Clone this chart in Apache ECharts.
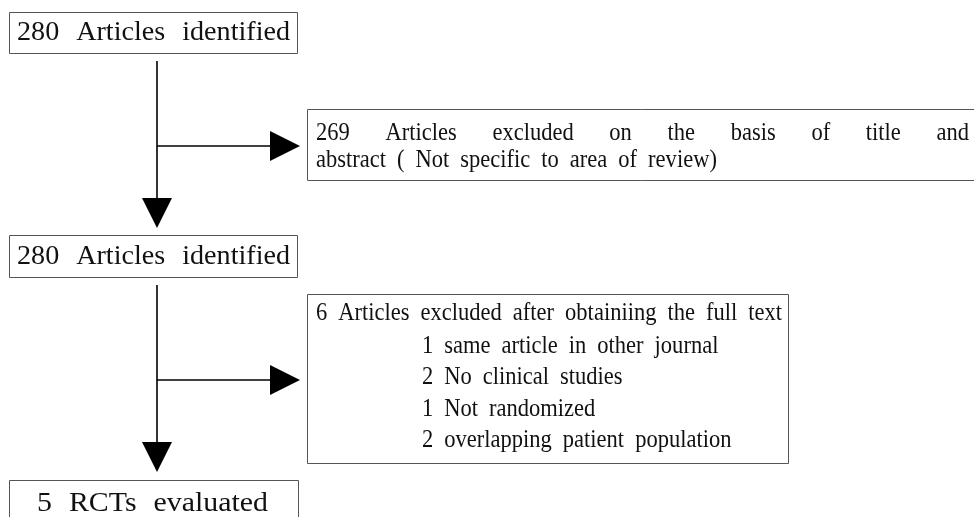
<!DOCTYPE html>
<html>
<head>
<meta charset="utf-8">
<script src="https://cdn.jsdelivr.net/npm/echarts@6/dist/echarts.min.js"></script>
<style>
html, body { margin: 0; padding: 0; background: #fff; }
#flow { width: 974px; height: 517px; }
</style>
</head>
<body>
<div id="flow"></div>
<script>
// flow chart content
const mainSteps = ['280 Articles identified', '280 Articles identified', '5 RCTs evaluated'];
const titleExcluded = ['269 Articles excluded on the basis of title and', 'abstract ( Not specific to area of review)'];
const fullTextExcluded = '6 Articles excluded after obtainiing the full text';
const reasonCounts = [1, 2, 1, 2];
const reasonLabels = ['same article in other journal', 'No clinical studies', 'Not randomized', 'overlapping patient population'];

const FONT = '"Liberation Serif", "DejaVu Serif", serif';

let chart = echarts.init(document.getElementById('flow'));

// word widths, the original font is narrower with wide word gaps
let ctx = document.createElement('canvas').getContext('2d');
function wordWidths(str, fs) {
    ctx.font = fs + 'px ' + FONT;
    return str.split(' ').map(w => ctx.measureText(w).width);
}

// scale that makes a line fill x0..x1 with the given gap
function fitScale(str, fs, x0, x1, gap) {
    let ws = wordWidths(str, fs);
    let sum = ws.reduce((a, b) => a + b, 0);
    return (x1 - x0 - gap * (ws.length - 1)) / sum;
}

// lay out a line word by word; if x1 is given, spread to fill it
function words(str, fs, sx, x0, y, gap, x1) {
    let parts = str.split(' ');
    let ws = wordWidths(str, fs).map(w => w * sx);
    if (x1 != null) {
        let sum = ws.reduce((a, b) => a + b, 0);
        gap = (x1 - x0 - sum) / (parts.length - 1);
    }
    let x = x0;
    return parts.map((p, i) => {
        let el = {
            type: 'text',
            x: x, y: y,
            scaleX: sx,
            style: {
                text: p, font: fs + 'px ' + FONT, fill: '#111',
                align: 'left', verticalAlign: 'middle'
            }
        };
        x += ws[i] + gap;
        return el;
    });
}

function box(x, y, w, h) {
    return {
        type: 'rect',
        shape: { x: x + 0.5, y: y + 0.5, width: w, height: h },
        style: { fill: '#fff', stroke: '#555', lineWidth: 1 }
    };
}

function line(x1, y1, x2, y2) {
    return {
        type: 'line',
        shape: { x1: x1, y1: y1, x2: x2, y2: y2 },
        style: { stroke: '#000', lineWidth: 1.6 }
    };
}

function tri(points) {
    return { type: 'polygon', shape: { points: points }, style: { fill: '#000' } };
}

let els = [];

// main column boxes: [x, y, w, h, textLeft, textRight, textY]
const mainBoxes = [
    [9, 12, 288, 41, 17, 290, 33],
    [9, 235, 288, 42, 17, 290, 257],
    [9, 480, 289, 60, 37, 268, 504]
];
mainBoxes.forEach((b, i) => {
    els.push(box(b[0], b[1], b[2], b[3]));
    let s = fitScale(mainSteps[i], 27, b[4], b[5], 17);
    els = els.concat(words(mainSteps[i], 27, s, b[4], b[6], 17));
});

// vertical flow with side branches
const cx = 157;
[[61, 198, 146], [285, 442, 380]].forEach(s => {
    els.push(line(cx, s[0], cx, s[1]));
    els.push(tri([[cx - 15, s[1]], [cx + 15, s[1]], [cx, s[1] + 30]]));
    els.push(line(cx, s[2], 271, s[2]));
    els.push(tri([[270, s[2] - 15], [270, s[2] + 15], [300, s[2]]]));
});

const FS = 26, GAP = 11;
const sx = fitScale(fullTextExcluded, FS, 316, 782, GAP);

// title / abstract exclusion box
els.push(box(307, 109, 700, 71));
els = els.concat(words(titleExcluded[0], FS, sx, 316, 133, GAP, 969));
els = els.concat(words(titleExcluded[1], FS, sx, 316, 160, GAP));

// full text exclusion box
els.push(box(307, 294, 481, 169));
els = els.concat(words(fullTextExcluded, FS, sx, 316, 313, GAP));
reasonLabels.forEach((r, i) => {
    els = els.concat(words(reasonCounts[i] + ' ' + r, FS, sx, 422, 346 + i * 31.5, GAP));
});

chart.setOption({
    backgroundColor: '#fff',
    animation: false,
    graphic: { elements: els }
});
</script>
</body>
</html>
